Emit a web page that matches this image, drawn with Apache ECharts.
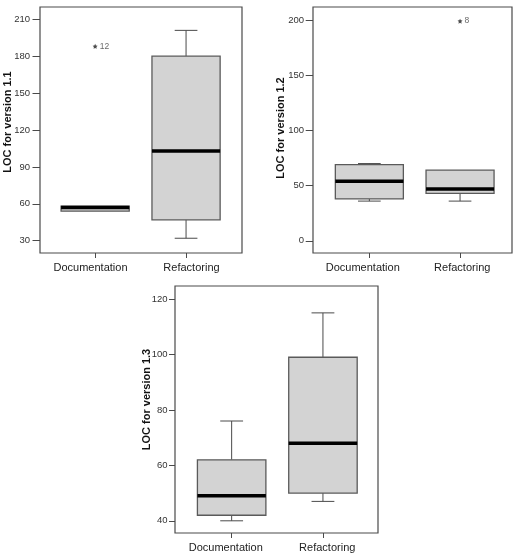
<!DOCTYPE html>
<html>
<head>
<meta charset="utf-8">
<script src="https://cdn.jsdelivr.net/npm/echarts@6/dist/echarts.min.js"></script>
<style>
html,body{margin:0;padding:0;background:#fff;}
#chart{width:519px;height:559px;}
</style>
</head>
<body>
<div id="chart"></div>
<script>
// ---- data ----
const categories = ['Documentation', 'Refactoring'];
// [min, Q1, median, Q3, max]
const v11Documentation = [54, 54, 57, 58, 58];
const v11Refactoring = [32, 47, 103, 180, 201];
const v11Outliers = [[0, 188, '12']];
const v11Ticks = [30, 60, 90, 120, 150, 180, 210];

const v12Documentation = [36, 38, 54, 69, 70];
const v12Refactoring = [36, 43, 47, 64, 64];
const v12Outliers = [[1, 199, '8']];
const v12Ticks = [0, 50, 100, 150, 200];

const v13Documentation = [40, 42, 49, 62, 76];
const v13Refactoring = [47, 50, 68, 99, 115];
const v13Outliers = [];
const v13Ticks = [40, 60, 80, 100, 120];

const axisNames = ['LOC for version 1.1', 'LOC for version 1.2', 'LOC for version 1.3'];

// ---- layout ----
const FONT = '"Liberation Sans", Arial, sans-serif';
const panels = [
  {frame: {left: 40, top: 7, width: 202, height: 246}, data: {left: 49.7, width: 181.8}, yMin: 20, yMax: 220, offset: 9.7,
   stats: [v11Documentation, v11Refactoring], outliers: v11Outliers, ticks: v11Ticks, name: axisNames[0],
   namePad: 16, nameGap: 27, labelMargin: 10, tickLen: 7.5},
  {frame: {left: 313, top: 7, width: 199, height: 246}, data: {left: 324, width: 181.4}, yMin: -11, yMax: 211.8, offset: 11,
   stats: [v12Documentation, v12Refactoring], outliers: v12Outliers, ticks: v12Ticks, name: axisNames[1],
   namePad: 4, nameGap: 26.5, labelMargin: 9, tickLen: 7.3},
  {frame: {left: 175, top: 286, width: 203, height: 247}, data: {left: 186, width: 182.6}, yMin: 35.6, yMax: 124.7, offset: 11,
   stats: [v13Documentation, v13Refactoring], outliers: v13Outliers, ticks: v13Ticks, name: axisNames[2],
   namePad: 20, nameGap: 23, labelMargin: 7.5, tickLen: 6}
];

const starPath = 'path://M0,-10L2.9,-4L9.5,-3.1L4.7,1.5L5.9,8.1L0,5L-5.9,8.1L-4.7,1.5L-9.5,-3.1L-2.9,-4Z';
const edge = '#4a4a4a';

function renderBox(params, api) {
  const x = api.value(0);
  const pMin = api.coord([x, api.value(1)]);
  const pQ1 = api.coord([x, api.value(2)]);
  const pMed = api.coord([x, api.value(3)]);
  const pQ3 = api.coord([x, api.value(4)]);
  const pMax = api.coord([x, api.value(5)]);
  const band = api.size([1, 0])[0];
  const bw = band * 0.75;
  const cw = bw / 3;
  const cx = pMed[0];
  const lineStyle = {stroke: edge, lineWidth: 1};
  const children = [];
  if (Math.abs(pMax[1] - pQ3[1]) > 0.5) {
    children.push({type: 'line', shape: {x1: cx, y1: pMax[1], x2: cx, y2: pQ3[1]}, style: lineStyle});
    children.push({type: 'line', shape: {x1: cx - cw / 2, y1: pMax[1], x2: cx + cw / 2, y2: pMax[1]}, style: lineStyle});
  }
  if (Math.abs(pMin[1] - pQ1[1]) > 0.5) {
    children.push({type: 'line', shape: {x1: cx, y1: pQ1[1], x2: cx, y2: pMin[1]}, style: lineStyle});
    children.push({type: 'line', shape: {x1: cx - cw / 2, y1: pMin[1], x2: cx + cw / 2, y2: pMin[1]}, style: lineStyle});
  }
  children.push({type: 'rect', shape: {x: cx - bw / 2, y: pQ3[1], width: bw, height: pQ1[1] - pQ3[1]},
    style: {fill: '#d3d3d3', stroke: '#5a5a5a', lineWidth: 1.3}});
  children.push({type: 'line', shape: {x1: cx - bw / 2, y1: pMed[1], x2: cx + bw / 2, y2: pMed[1]},
    style: {stroke: '#000', lineWidth: 3.5}});
  return {type: 'group', children: children};
}

const grid = [], xAxis = [], yAxis = [], series = [];
panels.forEach((p, i) => {
  const fi = i * 2, di = i * 2 + 1;
  // frame grid: border + category labels
  grid.push({left: p.frame.left, top: p.frame.top, width: p.frame.width, height: p.frame.height,
    show: true, borderColor: edge, borderWidth: 1.2, backgroundColor: 'transparent'});
  // data grid: boxes, ticks
  grid.push({left: p.data.left, top: p.frame.top, width: p.data.width, height: p.frame.height});
  xAxis.push({gridIndex: fi, type: 'category', data: categories, boundaryGap: true, position: 'bottom',
    axisLine: {show: false, onZero: false}, axisTick: {show: false},
    axisLabel: {margin: 9, interval: 0, hideOverlap: false, fontFamily: FONT, fontSize: 11, color: '#222'},
    splitLine: {show: false}});
  yAxis.push({gridIndex: fi, type: 'value', show: false, min: 0, max: 1});
  xAxis.push({gridIndex: di, type: 'category', data: categories, boundaryGap: true, position: 'bottom',
    axisLine: {show: false, onZero: false},
    axisTick: {show: true, alignWithLabel: true, interval: 0, length: 5, lineStyle: {color: edge, width: 1}},
    axisLabel: {show: false},
    splitLine: {show: false}});
  yAxis.push({gridIndex: di, type: 'value', min: p.yMin, max: p.yMax, offset: p.offset,
    name: p.name, nameLocation: 'middle', nameGap: p.nameGap, nameRotate: 90, nameMoveOverlap: false,
    nameTextStyle: {fontFamily: FONT, fontSize: 11, fontWeight: 'bold', color: '#111', padding: [0, 0, 0, p.namePad]},
    axisLine: {show: false},
    axisTick: {show: true, length: p.tickLen, customValues: p.ticks, lineStyle: {color: edge, width: 1}},
    axisLabel: {margin: p.labelMargin, fontFamily: FONT, fontSize: 9.5, color: '#333', customValues: p.ticks},
    splitLine: {show: false}});
  series.push({type: 'custom', xAxisIndex: di, yAxisIndex: di, renderItem: renderBox,
    encode: {x: 0, y: [1, 2, 3, 4, 5]},
    data: p.stats.map((s, k) => [k].concat(s)), silent: true, animation: false});
  series.push({type: 'scatter', xAxisIndex: di, yAxisIndex: di, symbol: starPath, symbolSize: 5,
    itemStyle: {color: '#222'},
    label: {show: true, position: 'right', distance: 2, formatter: (d) => d.value[2],
      fontFamily: FONT, fontSize: 8.5, color: '#444'},
    data: p.outliers.map(o => ({value: o})), silent: true, animation: false});
});

const chart = echarts.init(document.getElementById('chart'), null, {renderer: 'canvas'});
chart.setOption({animation: false, backgroundColor: '#fff', grid, xAxis, yAxis, series});
</script>
</body>
</html>
